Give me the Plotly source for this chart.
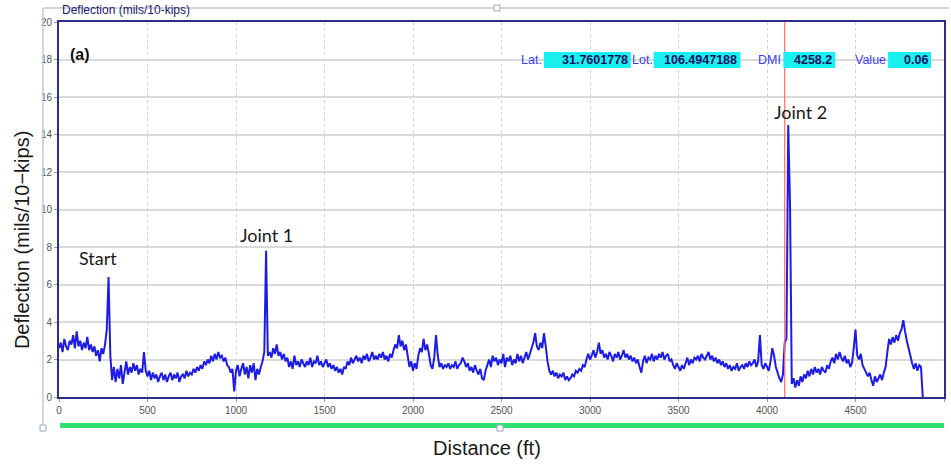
import plotly.graph_objects as go

# ---------------- data ----------------
step_ft = 10
deflection = [
    # 0-190
    2.6, 2.9, 2.4, 3.1, 2.7, 2.5, 3.0, 2.8, 3.3, 2.6, 3.5, 2.7, 3.0, 2.5, 2.9, 2.6, 3.2, 2.5, 2.8, 2.4,
    # 200-390
    2.7, 2.2, 2.5, 1.9, 2.6, 2.3, 2.8, 3.6, 6.4, 2.2, 0.9, 1.6, 0.8, 1.5, 1.0, 1.7, 0.7, 1.3, 1.9, 1.2,
    # 400-590
    1.6, 1.3, 1.8, 1.4, 1.7, 1.2, 1.5, 1.3, 2.4, 1.4, 1.1, 1.4, 0.9, 1.3, 1.0, 1.2, 0.8, 1.1, 1.3, 0.9,
    # 600-790
    1.2, 0.8, 1.1, 1.3, 0.9, 1.2, 1.0, 1.3, 0.8, 1.1, 1.2, 1.0, 1.4, 1.1, 1.3, 1.2, 1.5, 1.3, 1.6, 1.4,
    # 800-990
    1.7, 1.5, 1.9, 1.7, 2.0, 1.8, 2.2, 1.9, 2.3, 2.0, 2.4, 2.1, 2.2, 1.9, 2.1, 1.7, 1.6, 1.3, 1.5, 0.3,
    # 1000-1190
    1.4, 1.7, 1.1, 1.5, 1.8, 1.2, 1.6, 1.0, 1.7, 1.3, 1.8, 0.9, 1.5, 1.2, 1.6, 1.9, 2.4, 7.8, 2.2, 2.4,
    # 1200-1390
    2.1, 2.6, 2.3, 2.8, 2.2, 2.4, 2.0, 2.3, 1.9, 2.1, 1.6, 1.9, 1.5, 2.2, 1.7, 1.9, 1.6, 2.0, 1.8, 1.6,
    # 1400-1590
    1.9, 1.7, 2.1, 1.6, 1.9, 1.8, 2.2, 1.7, 1.9, 1.6, 1.8, 2.0, 1.6, 1.8, 1.5, 1.7, 1.4, 1.6, 1.3, 1.5,
    # 1600-1790
    1.2, 1.6, 1.5, 1.9, 1.7, 2.1, 1.8, 2.0, 2.2, 1.9, 2.1, 1.8, 2.2, 2.0, 2.3, 1.9, 2.1, 2.4, 2.0, 2.2,
    # 1800-1990
    2.0, 2.3, 2.1, 2.4, 2.0, 2.2, 1.9, 2.3, 2.1, 2.5, 2.8, 2.6, 3.3, 2.7, 3.0, 2.5, 2.8, 2.2, 1.6, 1.9,
    # 2000-2190
    1.4, 1.8, 1.5, 2.2, 2.6, 2.4, 3.1, 2.5, 2.8, 2.3, 1.7, 1.5, 2.1, 3.3, 2.2, 1.6, 1.8, 1.5, 1.7, 1.6,
    # 2200-2390
    1.8, 1.5, 1.7, 1.6, 1.9, 1.5, 1.7, 1.8, 2.1, 1.9, 1.6, 1.8, 1.4, 1.6, 1.3, 1.7, 1.4, 1.2, 1.5, 1.0,
    # 2400-2590
    0.9, 1.4, 1.7, 2.0, 1.6, 2.2, 1.9, 2.1, 1.7, 2.0, 1.8, 2.3, 1.6, 2.1, 1.9, 2.2, 1.7, 2.0, 1.8, 2.3,
    # 2600-2790
    1.9, 2.2, 1.8, 2.1, 2.4, 2.0, 2.3, 2.6, 2.9, 3.4, 2.7, 2.5, 2.9, 2.6, 3.4, 2.7, 1.9, 1.4, 1.2, 1.4,
    # 2800-2990
    1.1, 1.3, 1.0, 1.2, 1.1, 1.3, 0.9, 1.1, 0.9, 1.0, 1.2, 1.1, 1.4, 1.3, 1.5, 1.4, 1.7, 1.6, 2.0, 2.3,
    # 3000-3190
    2.0, 2.2, 2.5, 2.1, 2.4, 2.9, 2.3, 2.5, 2.1, 2.3, 2.0, 2.4, 2.2, 1.9, 2.3, 2.1, 2.4, 2.0, 2.2, 2.5,
    # 3200-3390
    2.1, 2.3, 2.0, 2.2, 1.9, 2.1, 1.8, 2.0, 1.6, 1.3, 1.9, 2.2, 1.8, 2.1, 2.0, 2.3, 1.9, 2.2, 2.0, 2.3,
    # 3400-3590
    2.1, 2.4, 2.0, 2.2, 2.3, 1.9, 2.0, 1.7, 1.5, 1.8, 1.6, 1.4, 1.7, 1.5, 1.8, 2.1, 1.7, 2.0, 1.8, 2.1,
    # 3600-3790
    2.0, 2.2, 1.9, 2.3, 2.1, 2.0, 2.2, 2.4, 2.0, 2.2, 1.9, 2.1, 1.8, 2.0, 1.7, 1.9, 1.6, 1.8, 1.5, 1.7,
    # 3800-3990
    1.4, 1.6, 1.5, 1.8, 1.4, 1.6, 1.7, 1.5, 1.8, 1.6, 1.9, 1.7, 1.8, 2.0, 1.6, 1.9, 3.3, 1.7, 1.5, 1.8,
    # 4000-4190
    1.6, 1.4, 1.9, 2.6, 2.2, 1.6, 1.3, 1.0, 0.8, 1.2, 2.9, 3.1, 14.5, 10.3, 0.7, 1.0, 0.5, 0.9, 0.6, 1.1,
    # 4200-4390
    0.8, 1.2, 1.0, 1.4, 1.1, 1.5, 1.2, 1.6, 1.3, 1.5, 1.2, 1.6, 1.4, 1.3, 1.7, 1.5, 1.9, 2.1, 1.8, 2.3,
    # 4400-4590
    2.0, 2.4, 2.1, 1.9, 2.2, 1.8, 2.0, 1.6, 1.8, 2.6, 3.6, 2.2, 2.0, 2.3, 1.7, 1.5, 1.3, 1.1, 1.3, 0.9,
    # 4600-4790
    0.6, 1.1, 0.8, 1.0, 1.2, 0.9, 1.3, 1.6, 2.4, 3.1, 2.8, 3.2, 2.9, 3.3, 3.0, 3.4, 3.6, 4.1, 3.5, 3.0,
    # 4800-4880
    2.6, 2.2, 1.8, 1.5, 1.8, 1.4, 1.7, 1.6, 0.0,
]
distance_ft = [i * step_ft for i in range(len(deflection))]

x_ticks = [0, 500, 1000, 1500, 2000, 2500, 3000, 3500, 4000, 4500, 5000]
y_ticks = [0, 2, 4, 6, 8, 10, 12, 14, 16, 18, 20]
cursor_ft = 4100
info_labels = ["Lat.", "Lot.", "DMI", "Value"]
info_values = ["31.7601778", "106.4947188", "4258.2", "0.06"]

# ---------------- layout helpers (pixel -> paper) ----------------
W, H = 951, 466
L, R, T, B = 59, 5, 22, 69
PW, PH = W - L - R, H - T - B


def px(x):
    return (x - L) / PW


def py(y):
    return (H - B - y) / PH


SANS = "Liberation Sans, Arial, sans-serif"
LABEL = "Lato, Open Sans, sans-serif"

fig = go.Figure()
fig.add_trace(go.Scatter(
    x=distance_ft, y=deflection, mode="lines",
    line=dict(color="#1c1ce6", width=2, simplify=False), hoverinfo="x+y", showlegend=False,
))

shapes = []
# outer panel frame
shapes.append(dict(type="line", xref="paper", yref="paper", x0=px(43), x1=px(43), y0=py(8), y1=py(428),
                   line=dict(color="#c4c8d4", width=1.5)))
shapes.append(dict(type="line", xref="paper", yref="paper", x0=px(43), x1=px(951), y0=py(8), y1=py(8),
                   line=dict(color="#c4c8d4", width=1.5)))
# green scroll bar
shapes.append(dict(type="rect", xref="paper", yref="paper", x0=px(60), x1=px(946), y0=py(428), y1=py(423),
                   fillcolor="#2ee070", line=dict(width=0)))
# handles
for hx, hy in [(43, 428), (501, 428), (498, 8)]:
    shapes.append(dict(type="rect", xref="paper", yref="paper", x0=px(hx - 3), x1=px(hx + 3),
                       y0=py(hy + 3), y1=py(hy - 3), fillcolor="white", line=dict(color="#9aa8b8", width=1)))
# red cursor line
shapes.append(dict(type="line", xref="x", yref="paper", x0=cursor_ft, x1=cursor_ft, y0=0, y1=1,
                   line=dict(color="#ff6b6b", width=1.2), layer="above"))

# info boxes
box_x = [(545, 632), (655, 742), (785, 837), (890, 933)]
lab_x = [533, 644, 771, 872]
annotations = []
for (bx0, bx1), lx, lab, val in zip(box_x, lab_x, info_labels, info_values):
    shapes.append(dict(type="rect", xref="paper", yref="paper", x0=px(bx0), x1=px(bx1),
                       y0=py(68), y1=py(52), fillcolor="#19f0f0", line=dict(width=0)))
    annotations.append(dict(x=px(lx), y=py(60), xref="paper", yref="paper", text=lab, showarrow=False,
                            font=dict(family=SANS, size=12.5, color="#3a3af0"), xanchor="center", yanchor="middle"))
    annotations.append(dict(x=px(bx1 - 1), y=py(60), xref="paper", yref="paper", text=f"<b>{val}</b>",
                            showarrow=False, font=dict(family=SANS, size=12.5, color="#0c1060"),
                            xanchor="right", yanchor="middle"))

annotations += [
    dict(x=px(60), y=py(10), xref="paper", yref="paper", text="Deflection (mils/10-kips)", showarrow=False,
         font=dict(family=SANS, size=12, color="#1a1a70"), xanchor="left", yanchor="middle"),
    dict(x=px(80), y=py(55), xref="paper", yref="paper", text="<b>(a)</b>", showarrow=False,
         font=dict(family=SANS, size=16, color="#111"),
         xanchor="center", yanchor="middle"),
    dict(x=px(98), y=py(258), xref="paper", yref="paper", text="Start", showarrow=False,
         font=dict(family=LABEL, size=18, color="#1a1a1a"), xanchor="center", yanchor="middle"),
    dict(x=px(267), y=py(235), xref="paper", yref="paper", text="Joint 1", showarrow=False,
         font=dict(family=LABEL, size=18, color="#1a1a1a"), xanchor="center", yanchor="middle"),
    dict(x=px(802), y=py(112), xref="paper", yref="paper", text="Joint 2", showarrow=False,
         font=dict(family=LABEL, size=18, color="#1a1a1a"), xanchor="center", yanchor="middle"),
    dict(x=px(22), y=py(240), xref="paper", yref="paper", text="Deflection (mils/10\u2212kips)", showarrow=False,
         textangle=-90, font=dict(family=SANS, size=20, color="#1a1a1a"),
         xanchor="center", yanchor="middle"),
    dict(x=px(488), y=py(448), xref="paper", yref="paper", text="Distance (ft)", showarrow=False,
         font=dict(family=SANS, size=20, color="#1a1a1a"),
         xanchor="center", yanchor="middle"),
]

fig.update_layout(
    width=W, height=H,
    margin=dict(l=L, r=R, t=T, b=B),
    paper_bgcolor="white", plot_bgcolor="white",
    shapes=shapes, annotations=annotations,
    xaxis=dict(range=[0, 5000], tickvals=x_ticks, ticktext=[str(v) for v in x_ticks],
               showgrid=True, gridcolor="#d2d2d2", griddash="dot", gridwidth=1,
               showline=True, linecolor="#2c2c8c", linewidth=2, mirror=True,
               ticks="outside", ticklen=3, tickcolor="#999",
               tickfont=dict(family=SANS, size=10, color="#555"), zeroline=False, fixedrange=True),
    yaxis=dict(range=[0, 20], tickvals=y_ticks, ticktext=[str(v) for v in y_ticks],
               showgrid=True, gridcolor="#dadada", gridwidth=1.5,
               showline=True, linecolor="#2c2c8c", linewidth=2, mirror=True,
               ticks="outside", ticklen=3, tickcolor="#999",
               tickfont=dict(family=SANS, size=10, color="#555"), zeroline=False, fixedrange=True),
)

fig.write_html("out.html")
